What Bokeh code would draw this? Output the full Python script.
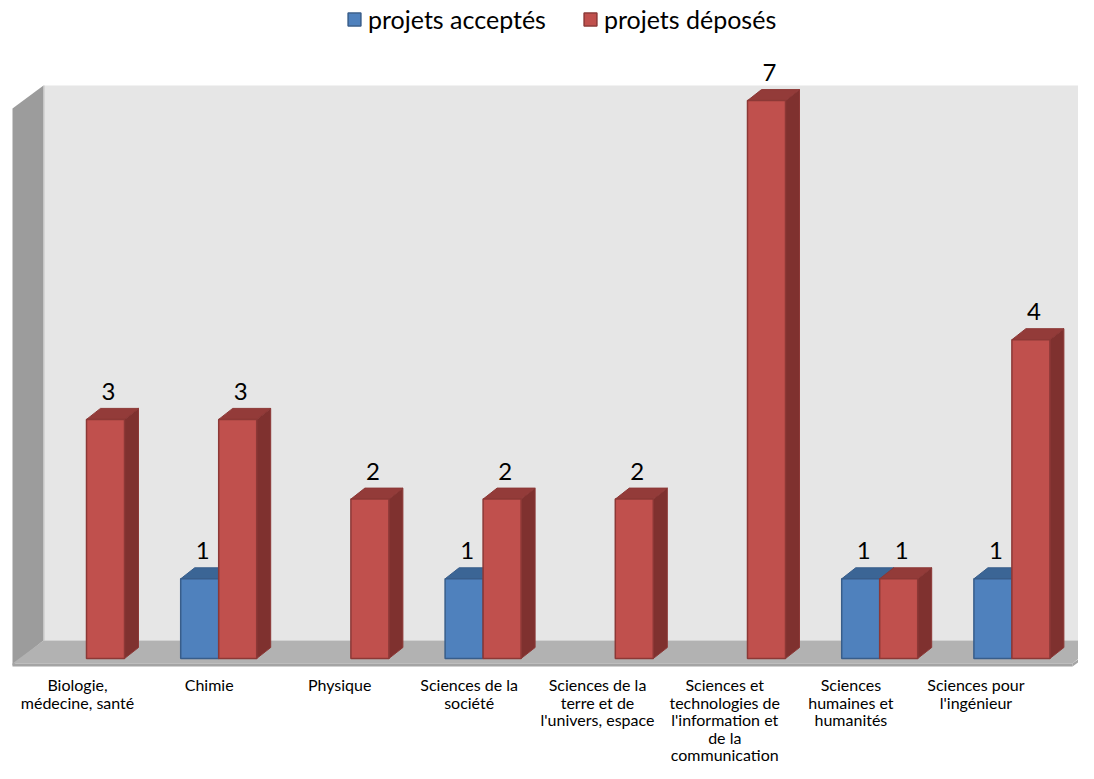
from bokeh.plotting import figure
from bokeh.models import Range1d, Legend, LegendItem, ColumnDataSource
from bokeh.core.properties import value
from bokeh.embed import file_html
from bokeh.resources import INLINE

# ---------------- data ----------------
categories = [
    "Biologie,\nmédecine, santé",
    "Chimie",
    "Physique",
    "Sciences de la\nsociété",
    "Sciences de la\nterre et de\nl'univers, espace",
    "Sciences et\ntechnologies de\nl'information et\nde la\ncommunication",
    "Sciences\nhumaines et\nhumanités",
    "Sciences pour\nl'ingénieur",
]
projets_acceptes = [None, 1, None, 1, None, None, 1, 1]
projets_deposes = [3, 3, 2, 2, 2, 7, 1, 4]
series_names = ["projets acceptés", "projets déposés"]

# ---------------- layout constants ----------------
W, H = 1078, 763
PX = 132.2      # px per category
PY = 79.7       # px per unit value
X0_PX = 86      # px of category 0 centre from left of figure
Y0_PX = H - 658 # px of value 0 from bottom of figure
FONT = "Lato"

def dxd(px):
    return px / PX

def dyd(px):
    return px / PY

def rx(ref_x):   # picture x -> data x
    return (ref_x - X0_PX) / PX

def ry(ref_y):   # picture y -> data y
    return (H - Y0_PX - ref_y) / PY

x_start = -X0_PX / PX
y_start = -Y0_PX / PY

p = figure(width=W, height=H, output_backend="svg", toolbar_location=None,
           x_range=Range1d(x_start, x_start + W / PX),
           y_range=Range1d(y_start, y_start + H / PY),
           min_border=0)
p.axis.visible = False
p.grid.visible = False
p.outline_line_color = None
p.background_fill_color = "white"
p.border_fill_color = "white"

# ---------------- 3D walls ----------------
p.quad(left=[rx(43)], right=[rx(1100)], bottom=[ry(640)], top=[ry(85)],
       fill_color="#e6e6e6", line_color=None)
p.patch(x=[rx(12), rx(12), rx(43), rx(43)], y=[ry(665), ry(108), ry(85), ry(640)],
        fill_color="#9c9c9c", line_color=None)
p.line(x=[rx(43.5), rx(43.5)], y=[ry(640), ry(85)], line_color="#c4c4c4", line_width=1)
p.patch(x=[rx(12), rx(43), rx(1100), rx(1072)], y=[ry(663), ry(640), ry(640), ry(663)],
        fill_color="#b2b2b2", line_color=None)
p.patch(x=[rx(12), rx(1072), rx(1072), rx(12)], y=[ry(663), ry(663), ry(666), ry(666)],
        fill_color="#a4a4a4", line_color=None)
p.patch(x=[rx(1072), rx(1100), rx(1100), rx(1072)], y=[ry(663), ry(643), ry(646), ry(666)],
        fill_color="#a4a4a4", line_color=None)

# ---------------- bars ----------------
bw = dxd(38)
ddx = dxd(14)
ddy = dyd(11)

def bar_sources(vals, side):
    fl, fr, ft, txs, tys, sxs, sys_, lx, ly, lt = [], [], [], [], [], [], [], [], [], []
    for i, v in enumerate(vals):
        if v is None:
            continue
        if side == 0:
            l, r = i - bw, i
        else:
            l, r = i, i + bw
        fl.append(l); fr.append(r); ft.append(v)
        txs.append([l, l + ddx, r + ddx, r]); tys.append([v, v + ddy, v + ddy, v])
        sxs.append([r, r + ddx, r + ddx, r]); sys_.append([0, ddy, v + ddy, v])
        lx.append((l + r) / 2 + dxd(3)); ly.append(v); lt.append(str(v))
    front = ColumnDataSource(dict(left=fl, right=fr, top=ft, bottom=[0] * len(fl)))
    top = ColumnDataSource(dict(xs=txs, ys=tys))
    sidef = ColumnDataSource(dict(xs=sxs, ys=sys_))
    lab = ColumnDataSource(dict(x=lx, y=ly, t=lt))
    return front, top, sidef, lab

styles = [
    dict(front="#4f81bd", top="#3b6595", side="#2d4f78", line="#385d8a"),
    dict(front="#c0504d", top="#933b39", side="#7f312f", line="#8c3836"),
]

renderers = []
labels = []
for k, vals in enumerate([projets_acceptes, projets_deposes]):
    st = styles[k]
    front, top, sidef, lab = bar_sources(vals, k)
    p.patches(xs="xs", ys="ys", source=sidef, fill_color=st["side"],
              line_color=st["line"], line_width=1)
    p.patches(xs="xs", ys="ys", source=top, fill_color=st["top"],
              line_color=st["line"], line_width=1)
    r = p.quad(left="left", right="right", top="top", bottom="bottom", source=front,
               fill_color=st["front"], line_color=st["line"], line_width=1.5)
    renderers.append(r)
    labels.append(lab)

for lab in labels:
    p.text(x="x", y="y", text="t", source=lab, text_align="center",
           text_baseline="middle", y_offset=-28, text_color="black",
           text_font=value(FONT), text_font_size="24px")

# ---------------- category labels (one text per line) ----------------
LINE_GAP = 17.5
FIRST_LINE = 26   # px below value 0
cx, cy, ct, cxo, cyo = [], [], [], [], []
for i, cat in enumerate(categories):
    for j, line in enumerate(cat.split("\n")):
        cx.append(float(i)); cy.append(0.0); ct.append(line)
        cxo.append(-9 - 0.55 * i * i)
        cyo.append(FIRST_LINE + LINE_GAP * j)
cat_src = ColumnDataSource(dict(x=cx, y=cy, t=ct, xo=cxo, yo=cyo))
p.text(x="x", y="y", text="t", source=cat_src, x_offset="xo", y_offset="yo",
       text_align="center", text_baseline="middle", text_color="black",
       text_font=value(FONT), text_font_size="16px")

# ---------------- legend ----------------
legend = Legend(items=[LegendItem(label=series_names[0], renderers=[renderers[0]]),
                       LegendItem(label=series_names[1], renderers=[renderers[1]])],
                orientation="horizontal", location=(346, 729),
                padding=0, margin=0, spacing=36, label_standoff=6,
                glyph_width=16, glyph_height=16, label_height=24,
                label_text_font=FONT, label_text_font_size="25px",
                label_text_color="black",
                background_fill_alpha=0, border_line_alpha=0)
p.add_layout(legend)

open("out.html", "w").write(file_html(p, INLINE))
